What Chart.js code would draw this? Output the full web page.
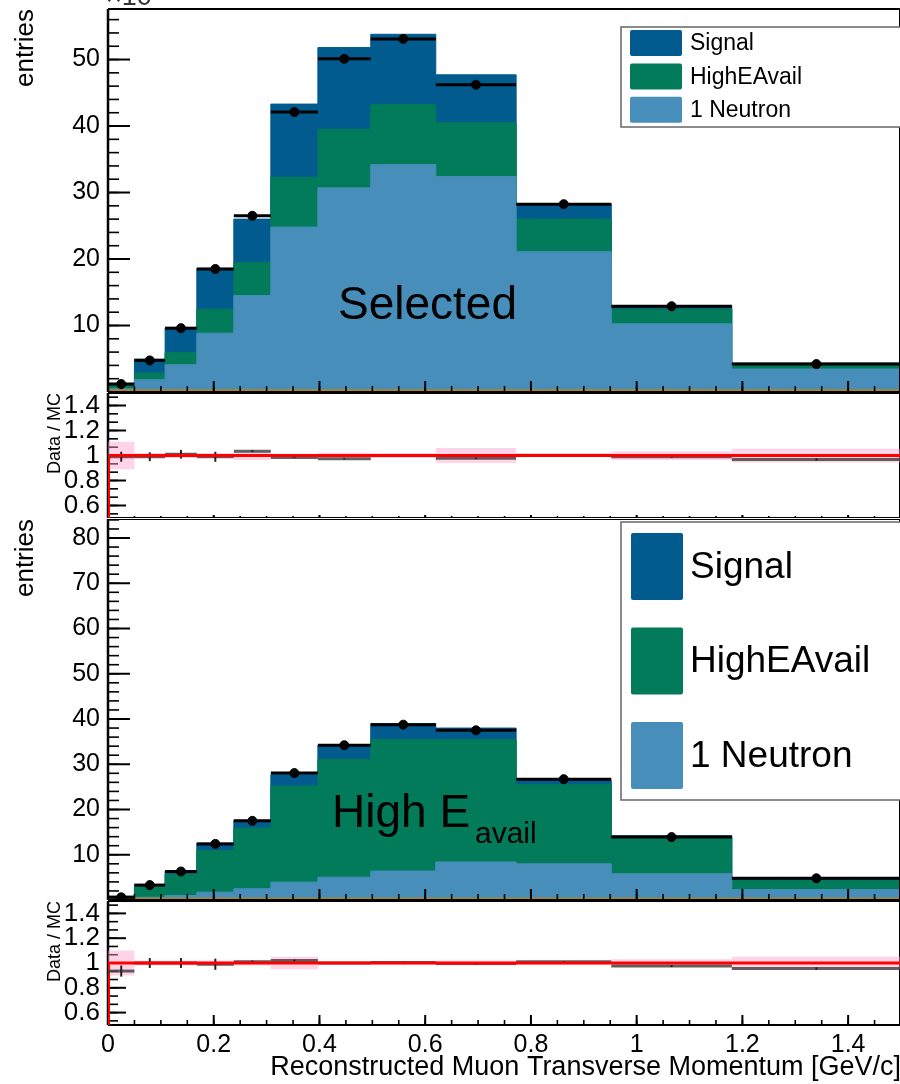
<!DOCTYPE html>
<html>
<head>
<meta charset="utf-8">
<script src="https://cdn.jsdelivr.net/npm/chart.js@4.4.0/dist/chart.umd.min.js"></script>
<style>
  body { margin: 0; background: #fff; overflow: hidden; }
  #wrap { position: relative; width: 900px; height: 1084px; overflow: hidden; background: #fff; }
  #wrap canvas { position: absolute; left: 0; }
</style>
</head>
<body>
<div id="wrap">
  <canvas id="selStack" width="901" height="392" style="top:0px"></canvas>
  <canvas id="selRatio" width="901" height="126" style="top:392px"></canvas>
  <canvas id="highStack" width="901" height="381" style="top:519px"></canvas>
  <canvas id="highRatio" width="901" height="184" style="top:900px"></canvas>
</div>
<script>
// ---- data (entries are in units of 10^3) ----
const binEdges = [0, 0.05, 0.108, 0.168, 0.238, 0.308, 0.397, 0.497, 0.62, 0.772, 0.952, 1.18, 1.5];
const xTickValues = [0, 0.2, 0.4, 0.6, 0.8, 1, 1.2, 1.4];
const selYTicks = [10, 20, 30, 40, 50];
const highYTicks = [10, 20, 30, 40, 50, 60, 70, 80];
const ratioYTicks = [0.6, 0.8, 1, 1.2, 1.4];

// "Selected" sample
const selOther      = [0.3, 0.3, 0.3, 0.3, 0.3, 0.3, 0.3, 0.3, 0.3, 0.3, 0.3, 0.3];
const selOneNeutron = [0.2, 1.55, 3.8, 8.55, 14.2, 24.5, 30.4, 33.9, 32.1, 20.8, 9.95, 3.15];
const selHighEAvail = [0.4, 1.0, 1.85, 3.6, 5.0, 7.5, 8.8, 9.0, 8.1, 4.9, 2.2, 0.5];
const selSignal     = [0.4, 2.1, 3.65, 6.15, 6.5, 11.0, 12.3, 10.6, 7.2, 2.3, 0.5, 0.4];
const selData       = [1.2, 4.75, 9.6, 18.5, 26.5, 42.1, 50.1, 53.1, 46.2, 28.25, 12.9, 4.2];
const selRatio      = [0.99, 0.99, 1.01, 0.99, 1.035, 0.985, 0.975, 1.0, 0.978, 1.003, 0.99, 0.968];
const selRatioErr   = [0.04, 0.035, 0.035, 0.04, 0.008, 0.006, 0.006, 0.006, 0.006, 0.006, 0.008, 0.01];
const selMcErr      = [0.11, 0.02, 0.02, 0.02, 0.035, 0.015, 0.025, 0.02, 0.06, 0.01, 0.035, 0.055];

// "High E_avail" sample
const highOther      = [0.4, 0.4, 0.4, 0.4, 0.4, 0.4, 0.4, 0.4, 0.4, 0.4, 0.4, 0.4];
const highOneNeutron = [0.1, 0.2, 0.6, 1.33, 2.1, 3.55, 4.65, 6.0, 8.0, 7.6, 5.4, 1.9];
const highHighEAvail = [0.25, 2.4, 4.65, 9.22, 13.4, 21.25, 26.05, 29.05, 27.05, 17.5, 8.1, 2.0];
const highSignal     = [0.1, 0.4, 0.75, 1.65, 1.7, 2.5, 3.1, 3.55, 2.55, 0.9, 0.3, 0.4];
const highData       = [0.6, 3.3, 6.3, 12.4, 17.5, 28.05, 34.2, 38.75, 37.5, 26.7, 13.9, 4.8];
const highRatio      = [0.935, 1.0, 1.0, 0.99, 1.01, 1.02, 1.0, 1.005, 0.995, 1.01, 0.975, 0.955];
const highRatioErr   = [0.045, 0.04, 0.04, 0.045, 0.01, 0.008, 0.006, 0.006, 0.006, 0.006, 0.008, 0.01];
const highMcErr      = [0.1, 0.02, 0.02, 0.02, 0.02, 0.05, 0.01, 0.015, 0.02, 0.015, 0.03, 0.05];

const FONT = "'Liberation Sans', Arial, Helvetica, sans-serif";
const COLORS = {
    signal: '#015b8e',
    high: '#017b59',
    neutron: '#478eba',
    other: '#c08400',
    band: 'rgba(255, 160, 205, 0.45)',
    unity: '#ff0000',
    ratioBar: 'rgba(60, 60, 60, 0.8)'
};

const binCenters = binEdges.slice(0, -1).map((e, i) => (e + binEdges[i + 1]) / 2);
const fmt = v => String(Number(v.toFixed(2)));

// histogram as a stepped line through bin edges
function stepPoints(vals) {
    const pts = vals.map((v, i) => ({ x: binEdges[i], y: v }));
    pts.push({ x: binEdges[binEdges.length - 1], y: vals[vals.length - 1] });
    return pts;
}

function cumulate(base, add) {
    return base.map((v, i) => v + add[i]);
}

function histSet(label, vals, color, legendRank) {
    return {
        label, data: stepPoints(vals), stepped: 'before', fill: 'origin',
        backgroundColor: color, borderColor: color, borderWidth: 1,
        pointRadius: 0, legendRank
    };
}

function stackDatasets(other, neutron, high, signal, data) {
    const c1 = other;
    const c2 = cumulate(c1, neutron);
    const c3 = cumulate(c2, high);
    const c4 = cumulate(c3, signal);
    // index 0 is drawn last (on top)
    return [
        { label: 'Data', data: binCenters.map((x, i) => ({ x, y: data[i] })), showLine: false,
          pointRadius: 4.5, pointBackgroundColor: '#000', pointBorderColor: '#000', errStyle: 'hist' },
        histSet('Other', c1, COLORS.other),
        histSet('1 Neutron', c2, COLORS.neutron, 3),
        histSet('HighEAvail', c3, COLORS.high, 2),
        histSet('Signal', c4, COLORS.signal, 1)
    ];
}

function ratioDatasets(ratio, ratioErr, mcErr) {
    return [
        { label: 'unity', data: [{ x: 0, y: 1 }, { x: 1.5, y: 1 }], borderColor: COLORS.unity,
          borderWidth: 3, pointRadius: 0, ratioBarsBefore: true },
        { label: 'edge', data: [{ x: 0, y: 1 }, { x: 0, y: 0.5 }], borderColor: COLORS.unity,
          borderWidth: 4, pointRadius: 0 },
        { label: 'Data / MC', data: binCenters.map((x, i) => ({ x, y: ratio[i] })), yErr: ratioErr,
          showLine: false, pointRadius: 0, errStyle: 'ratio' },
        { label: 'MC up', data: stepPoints(mcErr.map(e => 1 + e)), stepped: 'before', fill: '+1',
          backgroundColor: COLORS.band, borderColor: 'rgba(0,0,0,0)', borderWidth: 1, pointRadius: 0 },
        { label: 'MC down', data: stepPoints(mcErr.map(e => 1 - e)), stepped: 'before', fill: false,
          borderColor: 'rgba(0,0,0,0)', borderWidth: 1, pointRadius: 0 }
    ];
}

function stepValues(min, max, step, anchor) {
    const out = [];
    const start = anchor + Math.ceil((min - anchor) / step - 1e-9) * step;
    for (let v = start; v <= max + 1e-9; v += step) out.push(v);
    return out;
}

function drawRatioBars(chart) {
    const { ctx, scales: { x, y } } = chart;
    chart.data.datasets.forEach(ds => {
        if (ds.errStyle !== 'ratio') return;
        ctx.save();
        ds.data.forEach((p, i) => {
            const py = y.getPixelForValue(p.y);
            ctx.strokeStyle = COLORS.ratioBar;
            ctx.lineWidth = 3;
            ctx.beginPath();
            ctx.moveTo(x.getPixelForValue(binEdges[i]), py);
            ctx.lineTo(x.getPixelForValue(binEdges[i + 1]), py);
            ctx.stroke();
            const px = x.getPixelForValue(p.x);
            ctx.strokeStyle = '#222';
            ctx.lineWidth = 2;
            ctx.beginPath();
            ctx.moveTo(px, y.getPixelForValue(p.y + ds.yErr[i]));
            ctx.lineTo(px, y.getPixelForValue(p.y - ds.yErr[i]));
            ctx.stroke();
        });
        ctx.restore();
    });
}

function drawFrame(chart, opts) {
    const { ctx, chartArea: a, scales: { x, y } } = chart;
    const t = opts.ticks;
    ctx.save();
    ctx.strokeStyle = '#000';
    // y ticks (inside, from the left)
    const yMinor = stepValues(y.min, y.max, t.yMinorStep, t.yAnchor);
    ctx.lineWidth = 1.6;
    yMinor.forEach(v => {
        const py = y.getPixelForValue(v);
        ctx.beginPath(); ctx.moveTo(a.left, py); ctx.lineTo(a.left + t.yLen[1], py); ctx.stroke();
    });
    ctx.lineWidth = 2;
    t.yMajor.forEach(v => {
        const py = y.getPixelForValue(v);
        ctx.beginPath(); ctx.moveTo(a.left, py); ctx.lineTo(a.left + t.yLen[0], py); ctx.stroke();
    });
    // x ticks (inside, from the bottom)
    ctx.lineWidth = 1.6;
    stepValues(x.min, x.max, 0.05, 0).forEach(v => {
        const px = x.getPixelForValue(v);
        ctx.beginPath(); ctx.moveTo(px, a.bottom); ctx.lineTo(px, a.bottom - t.xLen[1]); ctx.stroke();
    });
    ctx.lineWidth = 2;
    stepValues(x.min, x.max, 0.2, 0).forEach(v => {
        const px = x.getPixelForValue(v);
        ctx.beginPath(); ctx.moveTo(px, a.bottom); ctx.lineTo(px, a.bottom - t.xLen[0]); ctx.stroke();
    });
    // frame
    ctx.lineWidth = 2.5;
    ctx.beginPath();
    ctx.moveTo(a.left, a.top); ctx.lineTo(a.left, a.bottom);
    ctx.stroke();
    ctx.lineWidth = 2;
    ctx.beginPath();
    ctx.moveTo(a.left, a.top); ctx.lineTo(a.right, a.top);
    ctx.moveTo(a.left, a.bottom); ctx.lineTo(a.right, a.bottom);
    ctx.moveTo(a.right - 1, a.top); ctx.lineTo(a.right - 1, a.bottom);
    ctx.stroke();
    ctx.restore();
}

const rootStyle = {
    id: 'rootStyle',
    defaults: {},
    beforeDatasetsDraw(chart, args, opts) {
        if (opts.ticks && opts.frameFirst) drawFrame(chart, opts);
    },
    beforeDatasetDraw(chart, args) {
        if (chart.data.datasets[args.index].ratioBarsBefore) drawRatioBars(chart);
    },
    afterDatasetsDraw(chart, args, opts) {
        const { ctx, scales: { x, y } } = chart;
        // horizontal bin-width bars on data points
        chart.data.datasets.forEach(ds => {
            if (ds.errStyle !== 'hist') return;
            ctx.save();
            ctx.strokeStyle = '#000';
            ctx.lineWidth = 3;
            ds.data.forEach((p, i) => {
                const py = y.getPixelForValue(p.y);
                ctx.beginPath();
                ctx.moveTo(x.getPixelForValue(binEdges[i]), py);
                ctx.lineTo(x.getPixelForValue(binEdges[i + 1]), py);
                ctx.stroke();
            });
            ctx.restore();
        });
        if (opts.ticks && !opts.frameFirst) drawFrame(chart, opts);
    },
    afterDraw(chart, args, opts) {
        const { ctx } = chart;
        const lg = opts.legend;
        if (lg) {
            ctx.save();
            ctx.fillStyle = '#fff';
            ctx.fillRect(lg.left, lg.top, lg.right - lg.left, lg.bottom - lg.top);
            ctx.strokeStyle = '#666';
            ctx.lineWidth = 1.5;
            ctx.strokeRect(lg.left, lg.top, lg.right - lg.left, lg.bottom - lg.top);
            const items = chart.data.datasets.filter(d => d.legendRank).sort((a, b) => a.legendRank - b.legendRank);
            ctx.font = lg.font;
            ctx.textBaseline = 'middle';
            items.forEach((d, i) => {
                const top = lg.rowTop + i * lg.rowH;
                ctx.fillStyle = d.backgroundColor;
                ctx.beginPath();
                ctx.roundRect(lg.swX, top, lg.swW, lg.swH, 2);
                ctx.fill();
                ctx.fillStyle = '#000';
                ctx.fillText(d.label, lg.textX, top + lg.swH / 2 + 1);
            });
            ctx.restore();
        }
        (opts.texts || []).forEach(t => {
            ctx.save();
            ctx.font = t.font;
            ctx.fillStyle = t.color || '#000';
            ctx.textBaseline = 'alphabetic';
            ctx.fillText(t.text, t.x, t.y);
            ctx.restore();
        });
    }
};
Chart.register(rootStyle);

function yAxis(min, max, ticks, fontSize, title, titleSize, titlePad) {
    return {
        type: 'linear', min, max,
        afterBuildTicks: ax => { ax.ticks = ticks.map(v => ({ value: v })); },
        afterFit: ax => { ax.width = 108; ax.paddingTop = 0; ax.paddingBottom = 0; },
        grid: { display: false, drawTicks: false },
        border: { display: false },
        ticks: { font: { family: FONT, size: fontSize }, color: '#000', padding: 8, autoSkip: false,
                 callback: v => fmt(v) },
        title: { display: true, text: title, align: 'end', color: '#000',
                 font: { family: FONT, size: titleSize }, padding: { top: titlePad, bottom: 0 } }
    };
}

function hiddenX() {
    return { type: 'linear', min: 0, max: 1.5, display: false };
}

function baseOptions(scales, plugin, padTop) {
    return {
        responsive: false,
        animation: false,
        events: [],
        layout: { autoPadding: false, padding: { top: padTop, left: 0, right: 0, bottom: 0 } },
        scales,
        plugins: { legend: { display: false }, tooltip: { enabled: false }, rootStyle: plugin }
    };
}

const stackTicks = { yMinorStep: 2, yAnchor: 0, yLen: [22, 11], xLen: [11, 6] };

new Chart(document.getElementById('selStack'), {
    type: 'line',
    data: { datasets: stackDatasets(selOther, selOneNeutron, selHighEAvail, selSignal, selData) },
    options: baseOptions(
        { x: hiddenX(), y: yAxis(0, 57.6, selYTicks, 25, 'entries', 26, 10) },
        {
            ticks: Object.assign({ yMajor: selYTicks }, stackTicks),
            legend: { left: 621, top: 27, right: 906, bottom: 127, rowTop: 30, rowH: 33.4,
                      swX: 630, swW: 52, swH: 26, textX: 690, font: '23px ' + FONT },
            texts: [
                { text: 'Selected', x: 338, y: 319, font: '46px ' + FONT },
                { text: '\u00d710\u00b3', x: 106, y: 5, font: '27px ' + FONT, color: '#333' }
            ]
        }, 9)
});

new Chart(document.getElementById('selRatio'), {
    type: 'line',
    data: { datasets: ratioDatasets(selRatio, selRatioErr, selMcErr) },
    options: baseOptions(
        { x: hiddenX(), y: yAxis(0.5, 1.5, ratioYTicks, 26, 'Data / MC', 18, 44) },
        { frameFirst: true,
          ticks: { yMajor: ratioYTicks, yMinorStep: 0.2 / 3, yAnchor: 0.6, yLen: [18, 10], xLen: [3, 2] } }, 1)
});

new Chart(document.getElementById('highStack'), {
    type: 'line',
    data: { datasets: stackDatasets(highOther, highOneNeutron, highHighEAvail, highSignal, highData) },
    options: baseOptions(
        { x: hiddenX(), y: yAxis(0, 84.2, highYTicks, 25, 'entries', 26, 10) },
        {
            ticks: Object.assign({ yMajor: highYTicks }, stackTicks),
            legend: { left: 621, top: 3, right: 906, bottom: 281, rowTop: 14, rowH: 94.5,
                      swX: 631, swW: 52, swH: 67, textX: 690, font: '37px ' + FONT },
            texts: [
                { text: 'High E', x: 332, y: 308, font: '46px ' + FONT },
                { text: 'avail', x: 475, y: 324, font: '30px ' + FONT }
            ]
        }, 0)
});

const bottomX = {
    type: 'linear', min: 0, max: 1.5,
    afterBuildTicks: ax => { ax.ticks = xTickValues.map(v => ({ value: v })); },
    afterFit: ax => { ax.height = 59; ax.paddingLeft = 0; ax.paddingRight = 0; },
    grid: { display: false, drawTicks: false },
    border: { display: false },
    ticks: { font: { family: FONT, size: 25 }, color: '#000', padding: 5, maxRotation: 0,
             autoSkip: false, callback: v => fmt(v) },
    title: { display: true, text: 'Reconstructed Muon Transverse Momentum [GeV/c]', align: 'end',
             color: '#000', font: { family: FONT, size: 27 }, padding: { top: 0, bottom: 0 } }
};

new Chart(document.getElementById('highRatio'), {
    type: 'line',
    data: { datasets: ratioDatasets(highRatio, highRatioErr, highMcErr) },
    options: baseOptions(
        { x: bottomX, y: yAxis(0.5, 1.5, ratioYTicks, 26, 'Data / MC', 18, 44) },
        { frameFirst: true,
          ticks: { yMajor: ratioYTicks, yMinorStep: 0.2 / 3, yAnchor: 0.6, yLen: [18, 10], xLen: [10, 5] } }, 1)
});
</script>
</body>
</html>
